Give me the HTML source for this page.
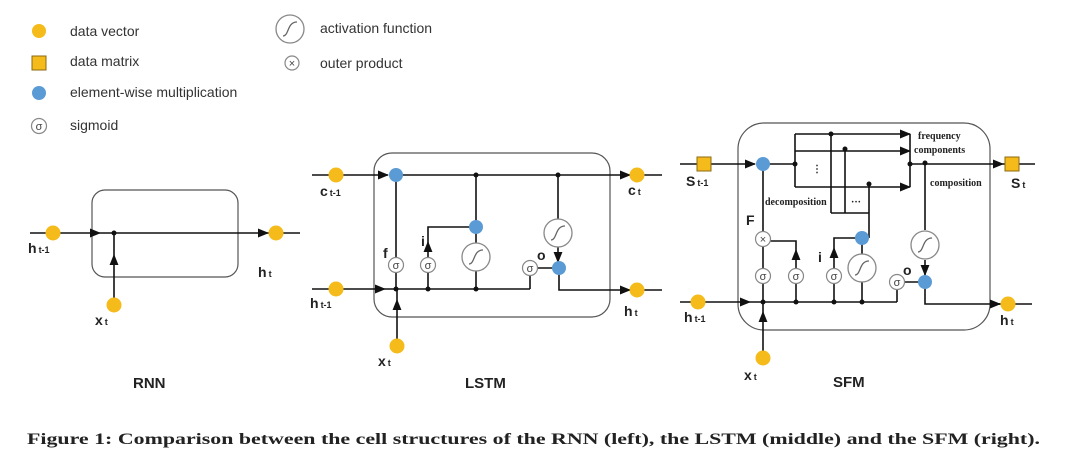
<!DOCTYPE html>
<html><head><meta charset="utf-8"><style>
html,body{margin:0;padding:0;background:#fff;}
svg{display:block;}
.s{font-family:"Liberation Sans",sans-serif;}
.lb{font-family:"Liberation Sans",sans-serif;font-weight:bold;font-size:14px;fill:#222;}
.sub{font-size:9px;}
.sr{font-family:"Liberation Serif",serif;font-weight:bold;font-size:10px;fill:#222;}
</style></head><body>
<svg width="1080" height="468" viewBox="0 0 1080 468" xmlns="http://www.w3.org/2000/svg">
<defs>
<marker id="a" viewBox="0 0 10 10" refX="9" refY="5" markerWidth="7" markerHeight="7" orient="auto"><path d="M0,1 L10,5 L0,9 z" fill="#111"/></marker>
<g id="act"><circle r="14" fill="#fff" stroke="#888" stroke-width="1.3"/><path d="M-7,7 C-1,7 -3,-7 7,-7" fill="none" stroke="#666" stroke-width="1.3"/></g>
<g id="sig"><circle r="7.5" fill="#fff" stroke="#888" stroke-width="1.2"/><text y="4" text-anchor="middle" font-family="Liberation Sans,sans-serif" font-size="11" fill="#444">σ</text></g>
</defs>
<!-- legend -->
<g class="s" font-size="14" fill="#333">
<circle cx="39" cy="31" r="7" fill="#f5bb1a"/>
<rect x="32" y="56" width="14" height="14" fill="#f5bb1a" stroke="#8a6a10" stroke-width="1"/>
<circle cx="39" cy="93" r="7" fill="#5b9bd5"/>
<use href="#sig" x="39" y="126"/>
<text x="70" y="36">data vector</text>
<text x="70" y="66">data matrix</text>
<text x="70" y="97">element-wise multiplication</text>
<text x="70" y="130">sigmoid</text>
<use href="#act" x="290" y="29"/>
<circle cx="292" cy="63" r="7" fill="#fff" stroke="#888" stroke-width="1.2"/>
<text x="292" y="67" text-anchor="middle" font-size="11" fill="#444">×</text>
<text x="320" y="33">activation function</text>
<text x="320" y="68">outer product</text>
</g>
<g stroke="#111" stroke-width="1.6" fill="none">
<!-- RNN -->
<rect x="92" y="190" width="146" height="87" rx="13" stroke="#555" stroke-width="1.2"/>
<line x1="30" y1="233" x2="100" y2="233" marker-end="url(#a)"/>
<line x1="100" y1="233" x2="268" y2="233" marker-end="url(#a)"/>
<line x1="268" y1="233" x2="300" y2="233"/>
<line x1="114" y1="305" x2="114" y2="255" marker-end="url(#a)"/>
<line x1="114" y1="255" x2="114" y2="233"/>
<!-- LSTM -->
<rect x="374" y="153" width="236" height="164" rx="18" stroke="#555" stroke-width="1.2"/>
<line x1="312" y1="175" x2="388" y2="175" marker-end="url(#a)"/>
<line x1="396" y1="175" x2="630" y2="175" marker-end="url(#a)"/>
<line x1="630" y1="175" x2="662" y2="175"/>
<line x1="312" y1="289" x2="385" y2="289" marker-end="url(#a)"/>
<line x1="385" y1="289" x2="530" y2="289"/>
<line x1="530" y1="289" x2="530" y2="268"/>
<line x1="396" y1="175" x2="396" y2="289"/>
<line x1="397" y1="346" x2="397" y2="300" marker-end="url(#a)"/>
<line x1="397" y1="300" x2="397" y2="289"/>
<line x1="428" y1="289" x2="428" y2="242" marker-end="url(#a)"/>
<polyline points="428,242 428,227 474,227"/>
<line x1="476" y1="175" x2="476" y2="289"/>
<line x1="558" y1="175" x2="558" y2="262" marker-end="url(#a)"/>
<line x1="530" y1="268" x2="558" y2="268"/>
<polyline points="559,268 559,290 630,290"/>
<line x1="620" y1="290" x2="630" y2="290" marker-end="url(#a)"/>
<line x1="630" y1="290" x2="662" y2="290"/>
<!-- SFM -->
<rect x="738" y="123" width="252" height="207" rx="26" stroke="#555" stroke-width="1.2"/>
<line x1="680" y1="164" x2="755" y2="164" marker-end="url(#a)"/>
<line x1="763" y1="164" x2="795" y2="164"/>
<line x1="795" y1="134" x2="795" y2="187"/>
<line x1="795" y1="134" x2="910" y2="134" marker-end="url(#a)"/>
<line x1="795" y1="151" x2="910" y2="151" marker-end="url(#a)"/>
<line x1="795" y1="187" x2="910" y2="187" marker-end="url(#a)"/>
<line x1="910" y1="134" x2="910" y2="187"/>
<line x1="910" y1="164" x2="1003" y2="164" marker-end="url(#a)"/>
<line x1="1003" y1="164" x2="1035" y2="164"/>
<line x1="831" y1="134" x2="831" y2="213"/>
<line x1="845" y1="149" x2="845" y2="213"/>
<line x1="831" y1="213" x2="869" y2="213"/>
<line x1="869" y1="184" x2="869" y2="238"/>
<line x1="925" y1="163" x2="925" y2="230"/>
<line x1="925" y1="260" x2="925" y2="275" marker-end="url(#a)"/>
<line x1="763" y1="164" x2="763" y2="302"/>
<line x1="763" y1="358" x2="763" y2="312" marker-end="url(#a)"/>
<line x1="763" y1="312" x2="763" y2="302"/>
<line x1="680" y1="302" x2="750" y2="302" marker-end="url(#a)"/>
<line x1="750" y1="302" x2="897" y2="302"/>
<line x1="897" y1="302" x2="897" y2="282"/>
<line x1="796" y1="302" x2="796" y2="250" marker-end="url(#a)"/>
<polyline points="763,241 796,241 796,250"/>
<line x1="834" y1="302" x2="834" y2="248" marker-end="url(#a)"/>
<polyline points="834,248 834,238 862,238"/>
<line x1="862" y1="238" x2="862" y2="302"/>
<line x1="897" y1="282" x2="925" y2="282"/>
<polyline points="925,282 925,304 1000,304"/>
<line x1="990" y1="304" x2="1000" y2="304" marker-end="url(#a)"/>
<line x1="1000" y1="304" x2="1032" y2="304"/>
</g>
<g fill="#111">
<circle cx="114" cy="233" r="2.5"/>
<circle cx="476" cy="175" r="2.5"/><circle cx="558" cy="175" r="2.5"/>
<circle cx="396" cy="289" r="2.5"/><circle cx="428" cy="289" r="2.5"/><circle cx="476" cy="289" r="2.5"/>
<circle cx="795" cy="164" r="2.5"/><circle cx="831" cy="134" r="2.5"/><circle cx="845" cy="149" r="2.5"/><circle cx="869" cy="184" r="2.5"/>
<circle cx="910" cy="164" r="2.5"/><circle cx="925" cy="163" r="2.5"/>
<circle cx="763" cy="302" r="2.5"/><circle cx="796" cy="302" r="2.5"/><circle cx="834" cy="302" r="2.5"/><circle cx="862" cy="302" r="2.5"/>
</g>
<!-- nodes -->
<g fill="#f5bb1a">
<circle cx="53" cy="233" r="7.5"/><circle cx="276" cy="233" r="7.5"/><circle cx="114" cy="305" r="7.5"/>
<circle cx="336" cy="175" r="7.5"/><circle cx="637" cy="175" r="7.5"/><circle cx="336" cy="289" r="7.5"/><circle cx="637" cy="290" r="7.5"/><circle cx="397" cy="346" r="7.5"/>
<circle cx="698" cy="302" r="7.5"/><circle cx="1008" cy="304" r="7.5"/><circle cx="763" cy="358" r="7.5"/>
<rect x="697" y="157" width="14" height="14" stroke="#8a6a10"/><rect x="1005" y="157" width="14" height="14" stroke="#8a6a10"/>
</g>
<g fill="#5b9bd5">
<circle cx="396" cy="175" r="7"/><circle cx="476" cy="227" r="7"/><circle cx="559" cy="268" r="7"/>
<circle cx="763" cy="164" r="7"/><circle cx="862" cy="238" r="7"/><circle cx="925" cy="282" r="7"/>
</g>
<use href="#sig" x="396" y="265"/><use href="#sig" x="428" y="265"/><use href="#sig" x="530" y="268"/>
<use href="#act" x="476" y="257"/><use href="#act" x="558" y="233"/>
<use href="#sig" x="763" y="276"/><use href="#sig" x="796" y="276"/><use href="#sig" x="834" y="276"/><use href="#sig" x="897" y="282"/>
<use href="#act" x="862" y="268"/><use href="#act" x="925" y="245"/>
<circle cx="763" cy="239" r="7.5" fill="#fff" stroke="#888" stroke-width="1.2"/>
<text x="763" y="243" text-anchor="middle" class="s" font-size="11" fill="#444">×</text>
<!-- labels -->
<text class="lb" x="28" y="253">h<tspan class="sub" dx="2">t-1</tspan></text>
<text class="lb" x="258" y="277">h<tspan class="sub" dx="2">t</tspan></text>
<text class="lb" x="95" y="325">x<tspan class="sub" dx="2">t</tspan></text>
<text class="lb" x="320" y="196">c<tspan class="sub" dx="2">t-1</tspan></text>
<text class="lb" x="628" y="195">c<tspan class="sub" dx="2">t</tspan></text>
<text class="lb" x="310" y="308">h<tspan class="sub" dx="2">t-1</tspan></text>
<text class="lb" x="624" y="316">h<tspan class="sub" dx="2">t</tspan></text>
<text class="lb" x="378" y="366">x<tspan class="sub" dx="2">t</tspan></text>
<text class="lb" x="383" y="258">f</text><text class="lb" x="421" y="246">i</text><text class="lb" x="537" y="260">o</text>
<text class="lb" x="686" y="186">S<tspan class="sub" dx="2">t-1</tspan></text>
<text class="lb" x="1011" y="188">S<tspan class="sub" dx="2">t</tspan></text>
<text class="lb" x="684" y="322">h<tspan class="sub" dx="2">t-1</tspan></text>
<text class="lb" x="1000" y="325">h<tspan class="sub" dx="2">t</tspan></text>
<text class="lb" x="744" y="380">x<tspan class="sub" dx="2">t</tspan></text>
<text class="lb" x="746" y="225">F</text><text class="lb" x="818" y="262">i</text><text class="lb" x="903" y="275">o</text>
<text class="sr" x="765" y="205">decomposition</text>
<text class="sr" x="918" y="139">frequency</text>
<text class="sr" x="914" y="153">components</text>
<text class="sr" x="930" y="186">composition</text>
<text class="sr" x="812" y="172">⋮</text>
<text class="sr" x="851" y="205">···</text>
<text class="s" font-weight="bold" font-size="15" fill="#222" x="133" y="388">RNN</text>
<text class="s" font-weight="bold" font-size="15" fill="#222" x="465" y="388">LSTM</text>
<text class="s" font-weight="bold" font-size="15" fill="#222" x="833" y="387">SFM</text>
<text x="27" y="444" font-family="Liberation Serif,serif" font-weight="bold" font-size="16" fill="#222" textLength="1013" lengthAdjust="spacingAndGlyphs">Figure 1: Comparison between the cell structures of the RNN (left), the LSTM (middle) and the SFM (right).</text>
</svg>
</body></html>
